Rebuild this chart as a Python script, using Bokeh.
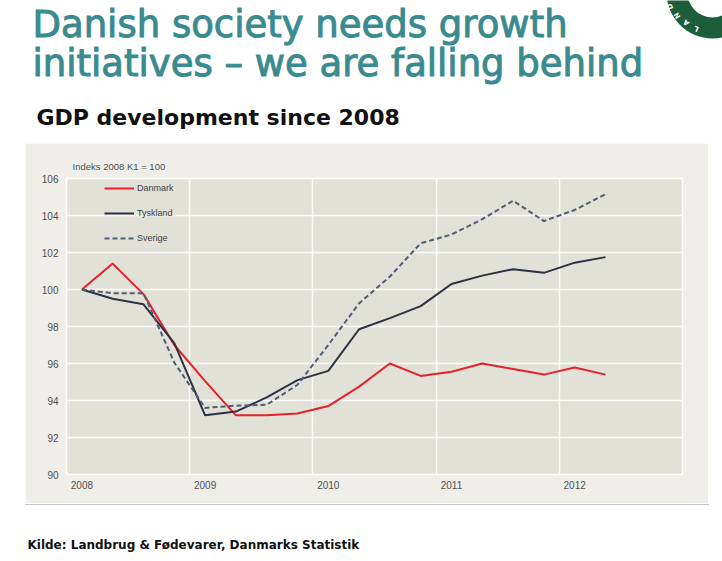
import numpy as np
from bokeh.plotting import figure
from bokeh.layouts import column, row
from bokeh.models import (Legend, LegendItem, FixedTicker, ColumnDataSource,
                          Range1d, Title, Spacer)
from bokeh.core.properties import value
from bokeh.embed import file_html
from bokeh.resources import INLINE

# ---------------- data ----------------
quarters = ["2008K1", "2008K2", "2008K3", "2008K4",
            "2009K1", "2009K2", "2009K3", "2009K4",
            "2010K1", "2010K2", "2010K3", "2010K4",
            "2011K1", "2011K2", "2011K3", "2011K4",
            "2012K1", "2012K2"]
danmark = [100.0, 101.4, 99.75, 97.0, 95.05, 93.2, 93.2, 93.3, 93.7, 94.75,
           96.0, 95.33, 95.55, 96.0, 95.7, 95.4, 95.78, 95.4]
tyskland = [100.0, 99.5, 99.2, 97.1, 93.2, 93.4, 94.17, 95.1, 95.6, 97.85,
            98.45, 99.1, 100.3, 100.75, 101.1, 100.9, 101.45, 101.75]
sverige = [100.0, 99.8, 99.8, 96.05, 93.6, 93.72, 93.77, 94.85, 97.0, 99.25,
           100.7, 102.5, 102.97, 103.8, 104.8, 103.7, 104.3, 105.15]
year_labels = ["2008", "2009", "2010", "2011", "2012"]
year_ticks = [0, 4, 8, 12, 16]          # K1 of each year
year_bounds = [3.5, 7.5, 11.5, 15.5]    # between K4 and K1
y_ticks = [90, 92, 94, 96, 98, 100, 102, 104, 106]

TEAL = "#3a8b8f"
x = list(range(len(quarters)))
src = ColumnDataSource(dict(x=x, dk=danmark, de=tyskland, se=sverige))


def canvas_fig(w, h):
    f = figure(width=w, height=h, output_backend="svg", toolbar_location=None,
               x_range=Range1d(0, w), y_range=Range1d(h, 0), tools="",
               x_axis_location=None, y_axis_location=None, title=None,
               min_border=0, outline_line_color=None,
               background_fill_color="white", border_fill_color="white")
    f.grid.visible = False
    return f


# ---------------- header ----------------
hdr = canvas_fig(722, 143)
hdr.text(x=[32], y=[24], text=["Danish society needs growth"],
         text_font=value("DejaVu Sans"), text_font_size="37px",
         text_color=TEAL, text_outline_color=TEAL,
         text_baseline="alphabetic")
hdr.text(x=[32], y=[63], text=["initiatives \u2013 we are falling behind"],
         text_font=value("DejaVu Sans"), text_font_size="37px",
         text_color=TEAL, text_outline_color=TEAL,
         text_baseline="alphabetic")
hdr.text(x=[36], y=[117], text=["GDP development since 2008"],
         text_font=value("DejaVu Sans"), text_font_size="22px",
         text_font_style="bold", text_color="#111111",
         text_baseline="alphabetic")
# logo: partial ring in the corner
cx, cy = 712, -8
hdr.annulus(x=[cx], y=[cy], inner_radius=25, outer_radius=46,
            fill_color="#1d5e3a", line_color=None)
lx = [696, 686, 677, 670]
ly = [28, 22, 15, 6]
angs = [float(np.arctan2(-(a - cx), -(b - cy))) for a, b in zip(lx, ly)]
hdr.text(x=lx, y=ly, text=list("LAND"), angle=angs,
         text_font=value("DejaVu Sans"), text_font_size="7px",
         text_font_style="bold", text_color="white",
         text_align="center", text_baseline="middle")

# ---------------- chart ----------------
p = figure(width=683, height=360, output_backend="svg", toolbar_location=None,
           x_range=Range1d(-0.5, 19.5), y_range=Range1d(90, 106), tools="",
           min_border_left=41, min_border_right=26, min_border_top=35,
           min_border_bottom=29, border_fill_color="#efeee8",
           background_fill_color="#e2e1d8", outline_line_color="white",
           outline_line_width=1.5, title=None)
p.add_layout(Title(text="Indeks 2008 K1 = 100", align="left", offset=6,
                   standoff=14, text_font="Liberation Sans",
                   text_font_size="9.5px", text_font_style="normal",
                   text_color="#505050"), "above")

p.xgrid.ticker = FixedTicker(ticks=year_bounds)
p.ygrid.ticker = FixedTicker(ticks=y_ticks)
for g in (p.xgrid, p.ygrid):
    g.grid_line_color = "white"
    g.grid_line_width = 1.5
    g.grid_line_alpha = 0.9

p.xaxis.ticker = FixedTicker(ticks=year_ticks)
p.xaxis.major_label_overrides = {t: l for t, l in zip(year_ticks, year_labels)}
p.yaxis.ticker = FixedTicker(ticks=y_ticks)
for ax in (p.xaxis, p.yaxis):
    ax.axis_line_color = None
    ax.major_tick_line_color = None
    ax.minor_tick_line_color = None
    ax.major_tick_out = 0
    ax.major_tick_in = 0
    ax.major_label_text_font = "Liberation Sans"
    ax.major_label_text_font_size = "10px"
    ax.major_label_text_color = "#505050"
p.xaxis.major_label_standoff = 6
p.yaxis.major_label_standoff = 8

r_dk = p.line("x", "dk", source=src, line_color="#e8202a", line_width=2)
r_de = p.line("x", "de", source=src, line_color="#2c3143", line_width=2)
r_se = p.line("x", "se", source=src, line_color="#4f5b78", line_width=2,
              line_dash="5 3")

legend = Legend(items=[LegendItem(label="Danmark", renderers=[r_dk]),
                       LegendItem(label="Tyskland", renderers=[r_de]),
                       LegendItem(label="Sverige", renderers=[r_se])],
                location=(38, 226), glyph_width=30, glyph_height=20,
                label_height=20, spacing=5, padding=0, margin=0,
                label_standoff=3, background_fill_alpha=0,
                border_line_color=None, label_text_font="Liberation Sans",
                label_text_font_size="9px", label_text_color="#404040")
p.add_layout(legend)

# ---------------- footer ----------------
ftr = canvas_fig(722, 58)
ftr.segment(x0=[25], y0=[1], x1=[708], y1=[1], line_color="#8a8a8a",
            line_width=1, line_dash="1 1")
ftr.text(x=[27], y=[41.5], text=["Kilde: Landbrug & F\u00f8devarer, Danmarks Statistik"],
         text_font=value("DejaVu Sans"), text_font_size="12px",
         text_font_style="bold", text_color="#111111",
         text_baseline="alphabetic")

layout = column(hdr, row(Spacer(width=25, height=360), p, spacing=0), ftr,
                spacing=0)
open("out.html", "w").write(file_html(layout, INLINE))
